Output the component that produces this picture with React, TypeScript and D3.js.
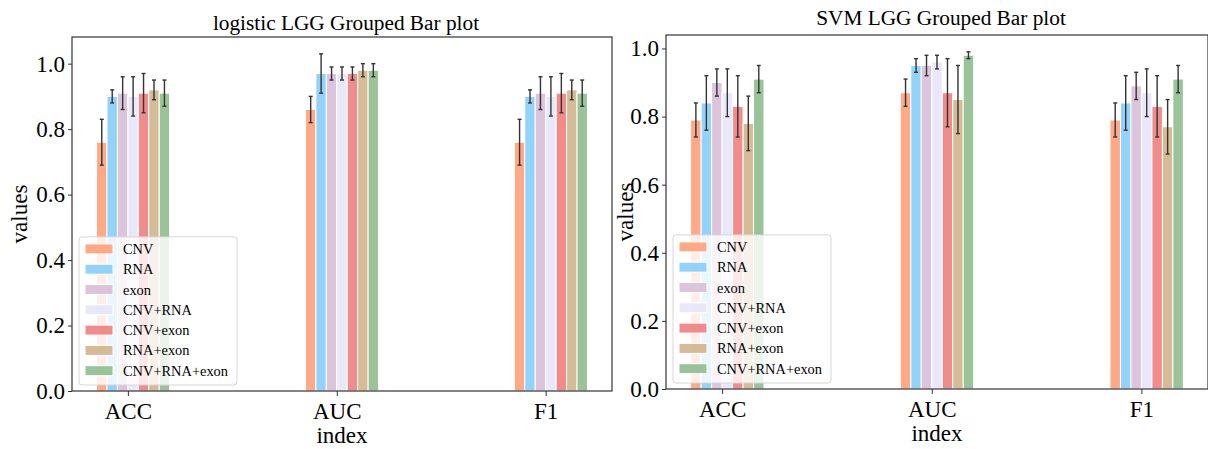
import React, { useEffect, useRef } from "react";
import * as d3 from "d3";

const metrics = ["ACC", "AUC", "F1"];
const features = ["CNV", "RNA", "exon", "CNV+RNA", "CNV+exon", "RNA+exon", "CNV+RNA+exon"];
const featureColors = ["#ffa07a", "#87cefa", "#d8bfd8", "#e6e6fa", "#f08080", "#d2b48c", "#8fbc8f"];
const yTicks = [0, 0.2, 0.4, 0.6, 0.8, 1.0];

// logistic regression, values in feature order
const logisticACC = [0.76, 0.9, 0.91, 0.9, 0.91, 0.92, 0.91];
const logisticACCErr = [0.07, 0.02, 0.05, 0.06, 0.06, 0.03, 0.04];
const logisticAUC = [0.86, 0.97, 0.97, 0.97, 0.97, 0.98, 0.98];
const logisticAUCErr = [0.04, 0.06, 0.02, 0.02, 0.02, 0.02, 0.02];
const logisticF1 = [0.76, 0.9, 0.91, 0.9, 0.91, 0.92, 0.91];
const logisticF1Err = [0.07, 0.02, 0.05, 0.06, 0.06, 0.03, 0.04];

// SVM
const svmACC = [0.79, 0.84, 0.9, 0.87, 0.83, 0.78, 0.91];
const svmACCErr = [0.05, 0.08, 0.04, 0.07, 0.09, 0.08, 0.04];
const svmAUC = [0.87, 0.95, 0.95, 0.96, 0.87, 0.85, 0.98];
const svmAUCErr = [0.04, 0.02, 0.03, 0.02, 0.1, 0.1, 0.01];
const svmF1 = [0.79, 0.84, 0.89, 0.87, 0.83, 0.77, 0.91];
const svmF1Err = [0.05, 0.08, 0.04, 0.07, 0.09, 0.08, 0.04];

const FONT = "'Liberation Serif', 'Times New Roman', serif";

function drawPanel(svg, cfg) {
  const { left, right, top, bottom, title, titleY, means, errs, ylabelX } = cfg;
  const g = svg.append("g");

  const barW = 0.05;
  const x0 = -3 * barW;
  const x1 = metrics.length - 1 + 4 * barW;
  const pad = (x1 - x0) * 0.05;
  const x = d3.scaleLinear().domain([x0 - pad, x1 + pad]).range([left, right]);

  const tops = means.flatMap((row, i) => row.map((m, j) => m + errs[i][j]));
  const y = d3.scaleLinear().domain([0, d3.max(tops) * 1.05]).range([bottom, top]);

  // bars
  metrics.forEach((m, mi) => {
    features.forEach((f, fi) => {
      const xl = x(mi + (fi - 3) * barW);
      const xr = x(mi + (fi - 2) * barW);
      g.append("rect")
        .attr("x", xl)
        .attr("y", y(means[mi][fi]))
        .attr("width", xr - xl)
        .attr("height", y(0) - y(means[mi][fi]))
        .attr("fill", featureColors[fi])
        .attr("fill-opacity", 0.9)
        .attr("stroke", "white")
        .attr("stroke-width", 1);
    });
  });

  // error bars
  metrics.forEach((m, mi) => {
    features.forEach((f, fi) => {
      const cx = x(mi + (fi - 2.5) * barW);
      const hi = y(means[mi][fi] + errs[mi][fi]);
      const lo = y(means[mi][fi] - errs[mi][fi]);
      const eg = g.append("g").attr("stroke", "#333").attr("stroke-width", 1.4);
      eg.append("line").attr("x1", cx).attr("x2", cx).attr("y1", hi).attr("y2", lo);
      eg.append("line").attr("x1", cx - 2).attr("x2", cx + 2).attr("y1", hi).attr("y2", hi);
      eg.append("line").attr("x1", cx - 2).attr("x2", cx + 2).attr("y1", lo).attr("y2", lo);
    });
  });

  // axes
  const yAxis = g
    .append("g")
    .attr("transform", `translate(${left},0)`)
    .call(d3.axisLeft(y).tickValues(yTicks).tickFormat(d3.format(".1f")).tickSize(4).tickPadding(3));
  const xAxis = g
    .append("g")
    .attr("transform", `translate(0,${bottom})`)
    .call(d3.axisBottom(x).tickValues([0, 1, 2]).tickFormat((i) => metrics[i]).tickSize(5).tickPadding(7));
  [yAxis, xAxis].forEach((a) => {
    a.select(".domain").remove();
    a.selectAll("line").attr("stroke", "#333");
    a.selectAll("text").attr("font-family", FONT).attr("font-size", 23).attr("fill", "black");
  });

  g.append("rect")
    .attr("x", left)
    .attr("y", top)
    .attr("width", right - left)
    .attr("height", bottom - top)
    .attr("fill", "none")
    .attr("stroke", "#333")
    .attr("stroke-width", 1.2);

  // legend
  const lx = left + 7;
  const rowH = 20.3;
  const lh = features.length * rowH + 6;
  const ly = bottom - 6 - lh;
  const leg = g.append("g").attr("font-family", FONT).attr("font-size", 14.4);
  leg.append("rect")
    .attr("x", lx)
    .attr("y", ly)
    .attr("width", 158)
    .attr("height", lh)
    .attr("rx", 3)
    .attr("fill", "white")
    .attr("fill-opacity", 0.8)
    .attr("stroke", "#d6d6d6");
  features.forEach((f, fi) => {
    const cy = ly + 12 + fi * rowH;
    leg.append("rect")
      .attr("x", lx + 6)
      .attr("y", cy - 5)
      .attr("width", 28)
      .attr("height", 10)
      .attr("fill", featureColors[fi])
      .attr("fill-opacity", 0.9)
      .attr("stroke", "white");
    leg.append("text").attr("x", lx + 44).attr("y", cy + 5).text(f);
  });

  // titles and labels
  g.append("text")
    .attr("x", (left + right) / 2 + 4)
    .attr("y", titleY)
    .attr("text-anchor", "middle")
    .attr("font-family", FONT)
    .attr("font-size", 21.3)
    .text(title);
  g.append("text")
    .attr("x", (left + right) / 2)
    .attr("y", bottom + 52)
    .attr("text-anchor", "middle")
    .attr("font-family", FONT)
    .attr("font-size", 23)
    .text("index");
  g.append("text")
    .attr("transform", `translate(${ylabelX},${(top + bottom) / 2}) rotate(-90)`)
    .attr("text-anchor", "middle")
    .attr("font-family", FONT)
    .attr("font-size", 23)
    .text("values");
}

const App = () => {
  const ref = useRef(null);

  useEffect(() => {
    const svg = d3.select(ref.current);
    svg.selectAll("*").remove();

    drawPanel(svg, {
      left: 72,
      right: 612,
      top: 37,
      bottom: 391,
      title: "logistic LGG Grouped Bar plot",
      titleY: 30,
      means: [logisticACC, logisticAUC, logisticF1],
      errs: [logisticACCErr, logisticAUCErr, logisticF1Err],
      ylabelX: 27,
    });
    drawPanel(svg, {
      left: 666,
      right: 1208,
      top: 35,
      bottom: 389,
      title: "SVM LGG Grouped Bar plot",
      titleY: 25,
      means: [svmACC, svmAUC, svmF1],
      errs: [svmACCErr, svmAUCErr, svmF1Err],
      ylabelX: 633,
    });
  }, []);

  return (
    <div style={{ position: "absolute", left: 0, top: 0 }}>
      <svg ref={ref} width={1208} height={449} style={{ display: "block", background: "white" }}></svg>
    </div>
  );
};

export default App;
